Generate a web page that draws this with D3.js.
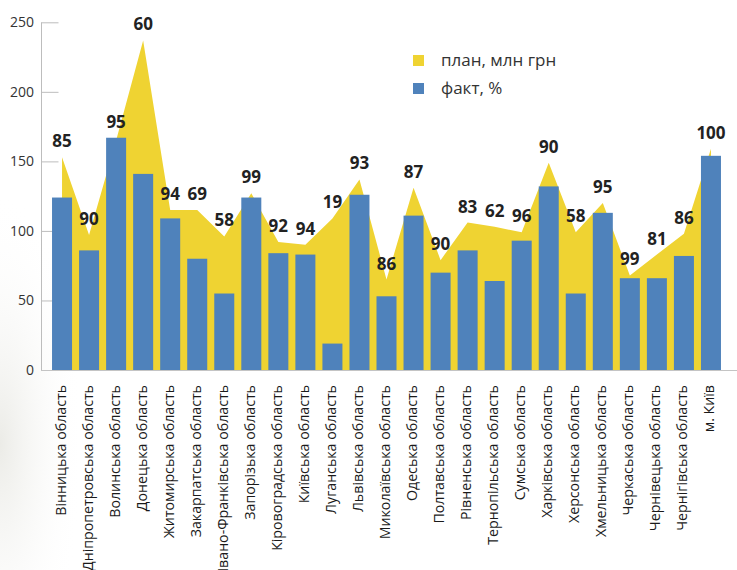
<!DOCTYPE html>
<html>
<head>
<meta charset="utf-8">
<script src="https://cdn.jsdelivr.net/npm/d3@7"></script>
<style>
  html, body { margin: 0; padding: 0; background: #ffffff; }
  svg { display: block; font-family: "Open Sans", "Noto Sans", sans-serif; }
</style>
</head>
<body>
<div id="chart"></div>
<script>
// Regions of Ukraine
const regions = [
  "Вінницька область", "Дніпропетровська область", "Волинська область", "Донецька область",
  "Житомирська область", "Закарпатська область", "Івано-Франківська область", "Запорізька область",
  "Кіровоградська область", "Київська область", "Луганська область", "Львівська область",
  "Миколаївська область", "Одеська область", "Полтавська область", "Рівненська область",
  "Тернопільська область", "Сумська область", "Харківська область", "Херсонська область",
  "Хмельницька область", "Черкаська область", "Чернівецька область", "Чернігівська область",
  "м. Київ"
];
// Planned amount, mln UAH (area)
const plan = [153, 97, 165, 237, 115, 115, 96, 127, 92, 90, 109, 137, 65, 131, 79, 106,
              103, 99, 149, 99, 120, 68, 83, 98, 159];
// Actual amount (bars)
const fact = [124, 86, 167, 141, 109, 80, 55, 124, 84, 83, 19, 126, 53, 111, 70, 86,
              64, 93, 132, 55, 113, 66, 66, 82, 154];
// Execution, % (labels above each region)
const percent = [85, 90, 95, 60, 94, 69, 58, 99, 92, 94, 19, 93, 86, 87, 90, 83,
                 62, 96, 90, 58, 95, 99, 81, 86, 100];
const yTicks = [0, 50, 100, 150, 200, 250];
const legendItems = [
  { name: "план, млн грн", color: "#efd332" },
  { name: "факт, %", color: "#4f82bb" }
];

const W = 737, H = 570;
const yellow = "#efd332", blue = "#4f82bb";

const svg = d3.select("#chart").append("svg").attr("width", W).attr("height", H);

// faint paper tint along the lower left edge
const defs = svg.append("defs");
const grad = defs.append("radialGradient").attr("id", "tint")
  .attr("cx", "0%").attr("cy", "70%").attr("r", "60%");
grad.append("stop").attr("offset", "0%").attr("stop-color", "#e9e9e4").attr("stop-opacity", 0.9);
grad.append("stop").attr("offset", "100%").attr("stop-color", "#ffffff").attr("stop-opacity", 0);
svg.append("rect").attr("x", 0).attr("y", 150).attr("width", 140).attr("height", 420)
  .attr("fill", "url(#tint)");

const x = d3.scaleBand().domain(regions).range([45, 728]).padding(0.26);
const y = d3.scaleLinear().domain([0, 250]).range([370, 22.3]);
const cx = d => x(d) + x.bandwidth() / 2;

const data = regions.map((r, i) => ({ r, plan: plan[i], fact: fact[i], pct: percent[i] }));

// y axis: vertical line with short inward ticks
const yAxis = svg.append("g").attr("transform", "translate(41.5,0)")
  .call(d3.axisRight(y).tickValues(yTicks).tickSize(17).tickFormat(""));
yAxis.select(".domain").attr("stroke", "#bdbdbd").attr("d", `M0,${y(250)}V${y(0)}`);
yAxis.selectAll(".tick line").attr("stroke", "#bdbdbd");

svg.append("g").selectAll("text").data(yTicks).join("text")
  .attr("x", 34).attr("y", d => y(d)).attr("dy", "0.35em")
  .attr("text-anchor", "end").attr("font-size", 14).attr("fill", "#333")
  .text(d => d);

// plan area
const area = d3.area()
  .x(d => cx(d.r))
  .y0(y(0))
  .y1(d => y(d.plan));
svg.append("path").datum(data).attr("d", area).attr("fill", yellow);

// fact bars
svg.append("g").selectAll("rect").data(data).join("rect")
  .attr("x", d => x(d.r)).attr("width", x.bandwidth())
  .attr("y", d => y(d.fact)).attr("height", d => y(0) - y(d.fact))
  .attr("fill", blue);

// x axis baseline
svg.append("line").attr("x1", 41).attr("x2", W).attr("y1", 370.5).attr("y2", 370.5)
  .attr("stroke", "#c4c4c4").attr("stroke-width", 1.2);

// category labels
svg.append("g").selectAll("text").data(regions).join("text")
  .attr("transform", d => `translate(${cx(d) - 1.5},385) rotate(-90)`)
  .attr("dy", "0.35em").attr("text-anchor", "end")
  .attr("font-size", 14.2).attr("fill", "#1a1a1a")
  .text(d => d);

// percent labels
svg.append("g").selectAll("text").data(data).join("text")
  .attr("x", d => cx(d.r))
  .attr("y", d => Math.min(y(d.plan), y(d.fact)) - 10)
  .attr("text-anchor", "middle").attr("font-size", 17).attr("font-weight", "bold")
  .attr("fill", "#222")
  .text(d => d.pct);

// legend
const lg = svg.append("g").selectAll("g").data(legendItems).join("g")
  .attr("transform", (d, i) => `translate(413,${55 + i * 28})`);
lg.append("rect").attr("width", 11).attr("height", 11).attr("fill", d => d.color);
lg.append("text").attr("x", 28).attr("y", 5.5).attr("dy", "0.35em")
  .attr("font-size", 17).attr("fill", "#333").text(d => d.name);
</script>
</body>
</html>
